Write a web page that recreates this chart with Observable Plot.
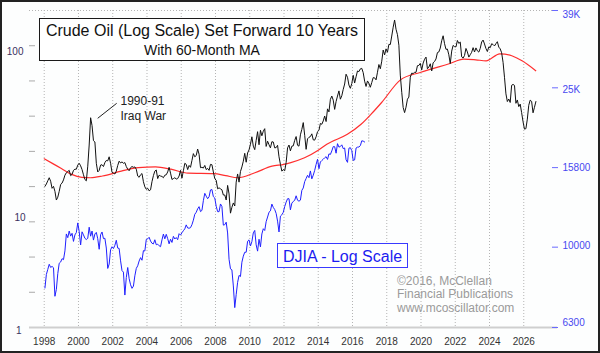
<!DOCTYPE html>
<html><head><meta charset="utf-8">
<script src="https://cdn.jsdelivr.net/npm/d3@7"></script>
<script src="https://cdn.jsdelivr.net/npm/@observablehq/plot@0.6"></script>
<style>
html,body{margin:0;padding:0;background:#fdfefe;}
#wrap{position:relative;width:600px;height:353px;overflow:hidden;font-family:Arial,"Liberation Sans",sans-serif;}
#wrap svg{display:block;}
.ov{position:absolute;white-space:nowrap;}
</style></head><body>
<div id="wrap">
  <div id="chart"></div>
  <div class="ov" style="left:39px;top:18px;width:326px;height:43px;box-sizing:border-box;border:1.5px solid #1a1a1a;background:#fff"></div>
  <div class="ov" style="left:39px;width:326px;top:22.5px;font-size:16px;line-height:16px;text-align:center;color:#111">Crude Oil (Log Scale) Set Forward 10 Years</div>
  <div class="ov" style="left:39px;width:326px;top:43px;font-size:14px;line-height:14px;text-align:center;color:#111">With 60-Month MA</div>
  <div class="ov" style="left:277px;top:243px;width:131px;height:25px;box-sizing:border-box;border:1px solid #3a3aff;background:#fff"></div>
  <div class="ov" style="left:277px;width:131px;top:248.5px;font-size:16px;line-height:16px;text-align:center;color:#1c1cf0">DJIA - Log Scale</div>
  <div class="ov" style="left:120.5px;top:93.5px;font-size:12px;line-height:15.7px;color:#222">1990-91<br>Iraq War</div>
  <svg class="ov" style="left:0;top:0" width="600" height="353"><line x1="116.7" y1="103.3" x2="97.7" y2="118.3" stroke="#222" stroke-width="1"/></svg>
  <div class="ov" style="left:397px;top:275px;font-size:12px;line-height:13.3px;color:#9a9a9a">©2016, McClellan<br>Financial Publications<br>www.mcoscillator.com</div>
  <div class="ov" style="left:0;top:0;width:600px;height:353px;box-sizing:border-box;border:2px solid #222"></div>
</div>
<script>
// ---- data ----
const oilStartYear = 1988;   // oil data (monthly closes), plotted shifted forward
const shiftYears = 10;
const oilCloses = [
  // 1988
  15.9,16.4,17.1,17.8,17.0,15.5,15.9,14.9,13.3,13.8,14.9,16.3,
  // 1989
  16.6,17.3,18.4,19.0,19.3,19.6,18.3,18.6,19.6,19.9,19.9,21.0,
  // 1990
  21.5,20.8,19.8,18.5,17.4,17.1,20.7,27.3,39.0,35.2,28.9,28.4,
  // 1991
  21.5,19.2,19.6,21.0,21.1,20.6,21.7,22.3,22.2,23.4,21.5,19.1,
  // 1992
  18.9,18.7,19.4,20.9,22.1,21.6,21.9,21.5,21.7,20.6,19.9,19.5,
  // 1993
  20.3,20.6,20.4,20.5,19.9,18.2,17.9,18.5,18.8,16.9,15.8,15.3,
  // 1994
  15.5,15.0,15.2,16.9,18.3,19.4,19.7,17.6,18.4,18.2,18.1,17.8,
  // 1995
  18.4,18.5,19.2,20.4,18.9,17.4,17.6,17.8,17.5,17.6,18.2,19.6,
  // 1996
  17.7,19.5,21.5,21.2,19.8,20.9,20.4,22.3,24.4,23.4,23.8,25.9,
  // 1997
  24.2,20.3,20.4,20.2,20.9,19.8,20.1,19.6,21.2,21.1,19.2,17.6,
  // 1998
  17.2,15.4,15.6,15.4,15.2,14.2,14.2,13.3,16.1,14.4,11.2,12.1,
  // 1999
  12.8,12.3,16.8,18.7,16.8,19.3,20.5,22.1,24.5,21.8,24.6,25.6,
  // 2000
  27.6,30.4,26.9,25.7,29.0,32.5,27.4,33.1,30.8,32.7,33.8,26.8,
  // 2001
  28.7,27.4,26.3,28.5,28.4,26.3,26.4,27.2,23.4,21.2,19.4,19.8,
  // 2002
  19.5,21.7,26.3,27.3,25.3,26.9,27.0,29.0,30.5,27.2,26.9,31.2,
  // 2003
  33.5,36.6,31.0,25.8,29.6,30.2,30.5,31.6,29.2,29.1,30.4,32.5,
  // 2004
  33.1,36.2,35.8,37.4,39.9,37.1,43.8,42.1,49.6,51.8,49.1,43.5,
  // 2005
  48.2,51.8,55.4,49.7,52.0,56.5,60.6,68.9,66.2,59.8,57.3,61.0,
  // 2006
  67.9,61.4,66.6,71.9,71.3,73.9,74.4,70.3,62.9,58.7,63.1,61.1,
  // 2007
  58.1,61.8,65.9,65.7,64.0,70.7,78.2,74.0,81.7,94.5,88.7,96.0,
  // 2008
  91.8,101.8,101.6,113.5,127.4,140.0,124.1,115.5,100.6,68.1,54.4,44.6,
  // 2009
  41.7,44.8,49.7,51.1,66.3,69.9,69.5,70.6,70.6,77.0,77.3,79.4,
  // 2010
  72.9,79.7,83.8,86.2,74.0,75.6,79.0,71.9,80.0,81.4,84.1,91.4,
  // 2011
  92.2,97.0,106.7,113.9,102.7,95.4,95.7,88.8,79.2,93.2,100.4,98.8,
  // 2012
  98.5,107.1,103.0,104.9,86.5,85.0,88.1,96.5,92.2,86.2,88.9,91.8,
  // 2013
  97.5,92.1,97.2,93.5,92.0,96.6,105.0,107.7,102.3,96.4,92.7,98.4,
  // 2014
  97.5,102.6,101.6,99.7,102.7,105.4,98.2,96.0,91.2,80.5,66.2,53.3,
  // 2015
  48.2,49.8,47.6,59.6,60.3,59.5,47.1,49.2,45.1,46.6,41.7,37.0,
  // 2016
  33.6,33.8,38.3,45.9,49.1,48.3,41.6,44.7,48.2
];

const djiaStartYear = 1998;  // DJIA monthly closes
const djiaCloses = [
  7907,8546,8800,9063,8900,8952,8883,7539,7843,8592,9117,9181,
  9359,9307,9786,10789,10560,10971,10655,10829,10337,10730,10878,11497,
  10941,10128,10922,10734,10522,10448,10522,11215,10651,10971,10415,10787,
  10887,10495,9879,10735,10912,10502,10523,9950,8848,9075,9852,10022,
  9920,10106,10404,9946,9925,9243,8737,8664,7592,8397,8896,8342,
  8054,7891,7992,8480,8850,8985,9234,9416,9275,9801,9782,10454,
  10488,10584,10358,10226,10188,10435,10140,10174,10080,10027,10428,10783,
  10490,10766,10504,10193,10467,10275,10641,10482,10569,10440,10806,10718,
  10865,10993,11109,11367,11168,11150,11186,11381,11679,12081,12222,12463,
  12622,12269,12354,13063,13628,13409,13212,13358,13896,13930,13372,13265,
  12650,12266,12263,12820,12638,11350,11378,11544,10851,9325,8829,8776,
  8001,7063,7609,8168,8500,8447,9172,9496,9712,9713,10345,10428,
  10067,10325,10857,11009,10137,9774,10466,10015,10788,11118,11006,11578,
  11892,12226,12320,12811,12570,12414,12143,11614,10913,11955,12046,12218,
  12633,12952,13212,13214,12393,12880,13009,13091,13437,13096,13026,13104,
  13861,14054,14579,14840,15116,14910,15500,14810,15130,15546,16086,16577,
  15699,16322,16458,16581,16717,16827,16563,17098,17043,17391,17828,17823,
  17165,18133,17776,17841,18011,17620,17690,16528,16285,17664,17720,17425,
  16466,16517,17685,17774,17787,17930,18432,18401,18308
];

// 60-month moving average of oil (shifted years)
const maYears  = [1998.0,1998.5,1999.0,1999.6,2000.2,2000.7,2001.4,2002.5,2003.5,2004.5,2005.4,2006.4,2007.9,2008.6,2009.3,2010.3,2011.3,2012.0,2012.4,2013.2,2014.0,2014.5,2015.7,2016.5,2017.1,2017.7,2018.8,2019.95,2020.6,2021.6,2022.5,2023.2,2023.8,2024.6,2025.3,2025.9,2026.7];
const maValues = [22.8,21.4,20.1,18.6,17.9,17.8,18.2,19.4,20.3,20.5,19.9,18.9,18.8,18.3,17.8,19.0,20.7,21.2,21.7,23.1,25.5,27.6,31.4,35.8,41.0,47.6,64.0,70.5,73.7,78.7,84.0,83.2,82.1,90.0,87.7,82.1,72.1];

const xTickYears = [1998,2000,2002,2004,2006,2008,2010,2012,2014,2016,2018,2020,2022,2024,2026];
const oilDomain = [10 ** 0.4, 10 ** 2.2];
const oilTickValues = [3.981, 6.310, 10, 15.85, 25.12, 39.81, 63.10, 100];
const oilLabelTexts = ["100", "10", "1"];
const djDomain = [6300, 39000];
const djTickValues = [6300, 10000, 15800, 25000, 39000];
const djTickLabels = ["6300", "10000", "15800", "25K", "39K"];
const chartDate = 2016.95;

// ---- build ----
const oilData = oilCloses.map((v, i) => ({x: oilStartYear + shiftYears + (i + 0.5) / 12, v}));
const djData = djiaCloses.map((v, i) => ({x: djiaStartYear + (i + 0.5) / 12, v}));
const maData = maYears.map((x, i) => ({x, v: maValues[i]}));

// DJIA log scale mapped onto the oil log scale (right axis)
const djToY = v => 10 ** (Math.log10(oilDomain[0]) +
  (Math.log10(oilDomain[1]) - Math.log10(oilDomain[0])) *
  Math.log10(v / djDomain[0]) / Math.log10(djDomain[1] / djDomain[0]));
const djTicks = djTickValues.map((v, i) => ({p: djToY(v), t: djTickLabels[i]}));

const oilAtDate = oilData.reduce((a, b) => Math.abs(b.x - chartDate) < Math.abs(a.x - chartDate) ? b : a).v;
const djLast = djData[djData.length - 1].v;

const leftText = {y: "y", text: "t", frameAnchor: "left", textAnchor: "end", fill: "#3a3060"};
const rightText = {y: "p", text: "t", frameAnchor: "right", textAnchor: "start", dx: 5, fill: "#4848f0"};

const chart = Plot.plot({
  width: 600,
  height: 353,
  marginLeft: 29,
  marginRight: 43,
  marginTop: 10,
  marginBottom: 26,
  style: {background: "#fdfefe", fontFamily: "Arial, 'Liberation Sans', sans-serif", fontSize: "10px", color: "#333"},
  x: {domain: [1997.14, 2027.97]},
  y: {type: "log", domain: oilDomain},
  marks: [
    Plot.gridX(xTickYears, {stroke: "#b4b4b4", strokeOpacity: 1, strokeDasharray: "1,2"}),
    Plot.ruleY([oilDomain[1]], {stroke: "#b4b4b4", strokeDasharray: "1,2"}),
    Plot.ruleY([oilDomain[0]], {stroke: "#cfcfcf", strokeWidth: 2}),
    Plot.axisX(xTickYears, {tickSize: 0, tickPadding: 10, tickFormat: d => String(d), label: null, fill: "#333"}),
    Plot.axisY(oilTickValues, {anchor: "left", tickSize: 6, dx: 6, tickFormat: () => "", label: null, stroke: "#aaa"}),
    Plot.axisY(djTicks.map(d => d.p), {anchor: "right", tickSize: 6, dx: -6, tickFormat: () => "", label: null, stroke: "#6a6aff"}),
    Plot.text([djTicks[4]], {...rightText, dy: 4}),
    Plot.text([djTicks[3]], {...rightText, dy: 1.5}),
    Plot.text([djTicks[2]], {...rightText}),
    Plot.text([djTicks[1]], {...rightText, dy: -1.5}),
    Plot.text([djTicks[0]], {...rightText, dy: -5}),
    Plot.text([{t: oilLabelTexts[0], y: 100}], {...leftText, dx: -6, dy: 6}),
    Plot.text([{t: oilLabelTexts[1], y: 10}], {...leftText, dx: -4, dy: -4}),
    Plot.text([{t: oilLabelTexts[2], y: oilDomain[0]}], {...leftText, dx: -8, dy: 3}),
    Plot.ruleX([chartDate], {y1: djToY(djLast), y2: oilAtDate, stroke: "#888", strokeDasharray: "1,2"}),
    Plot.line(maData, {x: "x", y: "v", stroke: "#ff2e2e", strokeWidth: 1.2, curve: "monotone-x"}),
    Plot.line(oilData, {x: "x", y: "v", stroke: "#111", strokeWidth: 1}),
    Plot.line(djData, {x: "x", y: d => djToY(d.v), stroke: "#2020ff", strokeWidth: 1})
  ]
});
document.getElementById("chart").appendChild(chart);
</script>
</body></html>
